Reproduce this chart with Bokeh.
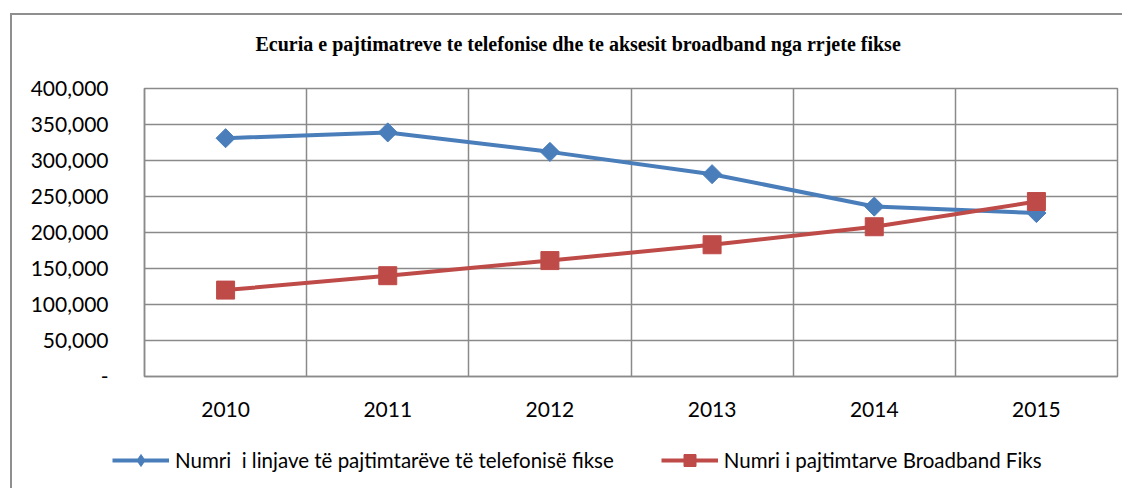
import math
from bokeh.plotting import figure
from bokeh.layouts import column, row
from bokeh.models import (Range1d, FixedTicker, NumeralTickFormatter, Legend,
                          LegendItem, Title)
from bokeh.embed import file_html
from bokeh.resources import INLINE

# ---- data ----
years = ["2010", "2011", "2012", "2013", "2014", "2015"]
fixed_lines = [331000, 339000, 312000, 281000, 236000, 227000]
broadband = [120000, 140000, 161000, 183000, 208000, 243000]
y_ticks = [0, 50000, 100000, 150000, 200000, 250000, 300000, 350000, 400000]
title_text = "Ecuria e pajtimatreve te telefonise dhe te aksesit broadband nga rrjete fikse"
series_names = ["Numri  i linjave të pajtimtarëve të telefonisë fikse",
                "Numri i pajtimtarve Broadband Fiks"]

BLUE = "#4a7ebb"
RED = "#be4b48"
GRID = "#8a8a8a"
FONT = "Lato"

x = [i + 0.5 for i in range(len(years))]

p = figure(width=1110, height=416, title=None,
           x_range=Range1d(0, len(years)), y_range=Range1d(y_ticks[0], y_ticks[-1]),
           output_backend="svg", toolbar_location=None,
           min_border_left=132, min_border_top=73, min_border_right=5,
           min_border_bottom=55)
p.outline_line_color = GRID
p.outline_line_width = 1.5
p.background_fill_color = "white"
p.border_fill_color = "white"

# grids
p.xgrid.ticker = FixedTicker(ticks=list(range(len(years) + 1)))
p.xgrid.grid_line_color = GRID
p.xgrid.grid_line_width = 1.5
p.ygrid.ticker = FixedTicker(ticks=y_ticks)
p.ygrid.grid_line_color = GRID
p.ygrid.grid_line_width = 1.5

# x axis
p.xaxis.ticker = FixedTicker(ticks=x)
p.xaxis.major_label_overrides = {xi: yr for xi, yr in zip(x, years)}
p.xaxis.axis_line_color = GRID
p.xaxis.axis_line_width = 1.5
p.xaxis.major_tick_line_color = None
p.xaxis.minor_tick_line_color = None
p.xaxis.major_label_standoff = 19
p.xaxis.major_label_text_font = FONT
p.xaxis.major_label_text_font_size = "21px"
p.xaxis.major_label_text_color = "black"

# y axis
p.yaxis.ticker = FixedTicker(ticks=y_ticks)
p.yaxis.formatter = NumeralTickFormatter(format="0,0")
p.yaxis.major_label_overrides = {0: "-"}
p.yaxis.axis_line_color = GRID
p.yaxis.axis_line_width = 1.5
p.yaxis.major_tick_line_color = None
p.yaxis.minor_tick_line_color = None
p.yaxis.major_label_standoff = 30
p.yaxis.major_label_text_font = FONT
p.yaxis.major_label_text_font_size = "21px"
p.yaxis.major_label_text_color = "black"

# series
p.line(x, fixed_lines, line_color=BLUE, line_width=4)
p.scatter(x, fixed_lines, marker="square", size=13.5, angle=math.pi / 4,
          fill_color=BLUE, line_color=BLUE)
p.line(x, broadband, line_color=RED, line_width=4)
p.scatter(x, broadband, marker="square", size=18, fill_color=RED, line_color=RED)

# title (spacer first = closest to frame)
p.add_layout(Title(text=" ", text_font_size="15px"), "above")
p.add_layout(Title(text=title_text, align="left", offset=111,
                   text_font="Liberation Serif", text_font_style="bold",
                   text_font_size="20px", text_color="black"), "above")

# legend strip (own figure, legend renderers hidden)
p2 = figure(width=1110, height=57, x_range=Range1d(0, 1), y_range=Range1d(0, 1),
            output_backend="svg", toolbar_location=None, min_border=0,
            outline_line_color=None)
p2.axis.visible = False
p2.grid.visible = False
p2.background_fill_color = "white"
p2.border_fill_color = "white"
dl1 = p2.line(x, fixed_lines, line_color=BLUE, line_width=4, visible=False)
dm1 = p2.scatter(x, fixed_lines, marker="diamond",
                 fill_color=BLUE, line_color=BLUE, visible=False)
dl2 = p2.line(x, broadband, line_color=RED, line_width=4, visible=False)
dm2 = p2.scatter(x, broadband, marker="square", fill_color=RED, line_color=RED,
                 visible=False)

legend = Legend(items=[LegendItem(label=series_names[0], renderers=[dl1, dm1]),
                       LegendItem(label=series_names[1], renderers=[dl2, dm2])],
                orientation="horizontal", location=(90, 3),
                glyph_width=57, glyph_height=30, label_standoff=6, spacing=47,
                label_text_font=FONT, label_text_font_size="20.5px",
                label_text_color="black",
                border_line_alpha=0, background_fill_alpha=0, padding=10)
p2.add_layout(legend, "center")

layout = column(p, row(p2), margin=(13, 0, 0, 10),
                styles={"border-left": "2px solid #8f8f8f",
                        "border-top": "2px solid #8f8f8f"})

open("out.html", "w").write(file_html(layout, INLINE))
